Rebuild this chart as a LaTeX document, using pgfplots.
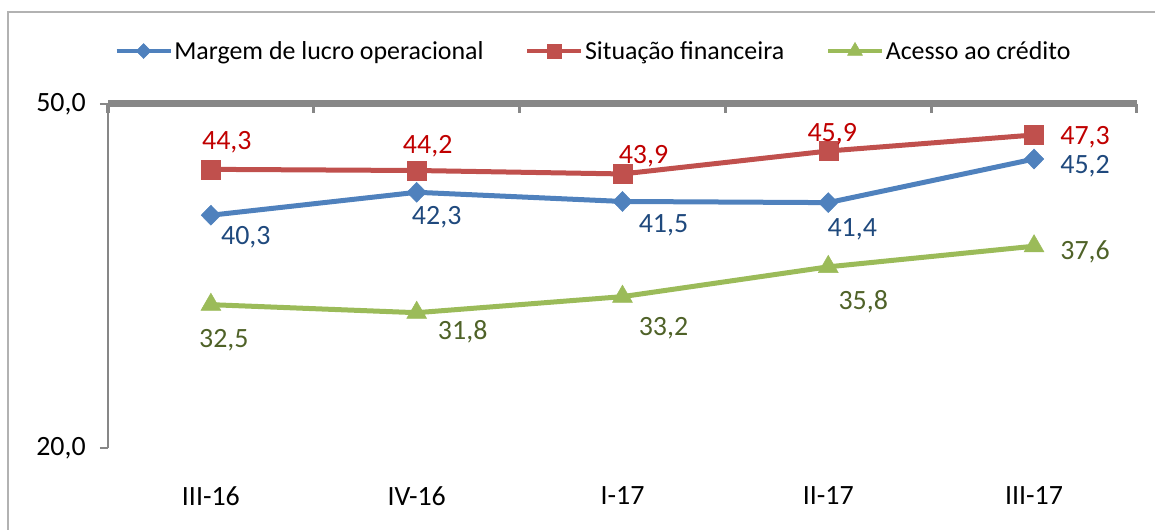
\documentclass[border=0pt]{standalone}
\usepackage{pgfplots}
\pgfplotsset{compat=1.18}
\usepackage{pgfplotstable}
\usepackage{fontspec}
\setmainfont{Carlito}
\definecolor{cblue}{HTML}{4F81BD}
\definecolor{cred}{HTML}{C0504D}
\definecolor{cgreen}{HTML}{9BBB59}
\definecolor{tblue}{HTML}{1F497D}
\definecolor{tred}{HTML}{C00000}
\definecolor{tgreen}{HTML}{4F6228}
\definecolor{axgray}{HTML}{878787}

\pgfplotstableread{
x y dx dy
0 40.3 35 -22
1 42.3 20 -25
2 41.5 41 -24
3 41.4 24 -27
4 45.2 51 -7
}\tblue
\pgfplotstableread{
x y dx dy
0 44.3 16 27
1 44.2 11 24
2 43.9 21 18
3 45.9 4 17
4 47.3 51 -2
}\tred
\pgfplotstableread{
x y dx dy
0 32.5 13 -36
1 31.8 46 -19
2 33.2 41 -32
3 35.8 35 -35
4 37.6 51 -6
}\tgreen

\begin{document}
\begin{tikzpicture}
\useasboundingbox (0,0) rectangle (1155bp,530bp);
\draw[gray!60, line width=1.5bp] (8bp,-5bp) -- (8bp,518bp) -- (1160bp,518bp);
\begin{axis}[
  at={(108bp,82bp)}, anchor=south west,
  scale only axis, width=1029bp, height=344bp,
  xmin=-0.5, xmax=4.5, ymin=20, ymax=50,
  clip=false,
  axis line style={draw=none},
  xtick={0,1,2,3,4},
  xticklabels={III-16,IV-16,I-17,II-17,III-17},
  xtick style={draw=none},
  xticklabel style={anchor=center, yshift=-40bp},
  ytick={20,50},
  ytick pos=left,
  tick align=outside,
  major tick length=8bp,
  ytick style={draw=axgray, line width=2bp},
  yticklabel style={anchor=center, xshift=-39bp},
  /pgf/number format/use comma,
  /pgf/number format/fixed,
  /pgf/number format/fixed zerofill,
  /pgf/number format/precision=1,
  /pgf/number format/assume math mode=true,
  font=\fontsize{28}{32}\selectfont,
  nodes near coords,
  visualization depends on={\thisrow{dx}\as\dx},
  visualization depends on={\thisrow{dy}\as\dy},
  nodes near coords style={anchor=center, inner sep=1bp, xshift=\dx bp, yshift=\dy bp, font=\fontsize{28}{30}\selectfont},
  legend columns=3,
  legend style={draw=none, fill=none, at={(0.472,1.154)}, anchor=center,
    font=\fontsize{26}{30}\selectfont,
    /tikz/every even column/.append style={column sep=40bp}},
  legend image code/.code={
    \draw[mark repeat=2,mark phase=2,#1, line width=3.5bp, every mark/.append style={scale=0.75}] plot coordinates {(0bp,0bp) (27bp,0bp) (54bp,0bp)};
  },
]
\addplot[color=cblue, line width=5bp, mark=diamond*,
  mark options={solid, fill=cblue, draw=cblue, line width=0.5bp, xscale=1.3}, mark size=10bp,
  every node near coord/.append style={text=tblue}]
  table[x=x, y=y] {\tblue};
\addlegendentry{Margem de lucro operacional}
\addplot[color=cred, line width=5bp, mark=square*,
  mark options={solid, fill=cred, draw=cred, line width=0.5bp}, mark size=9.5bp,
  every node near coord/.append style={text=tred}]
  table[x=x, y=y] {\tred};
\addlegendentry{Situação financeira}
\addplot[color=cgreen, line width=5bp, mark=triangle*,
  mark options={solid, fill=cgreen, draw=cgreen, line width=0.5bp}, mark size=11.5bp,
  every node near coord/.append style={text=tgreen}]
  table[x=x, y=y] {\tgreen};
\addlegendentry{Acesso ao crédito}
\draw[axgray, line width=2bp] (axis cs:-0.5,20) -- (axis cs:-0.5,50);
\draw[axgray, line width=7bp] (axis cs:-0.5,50) -- (axis cs:4.5,50);
\draw[axgray, line width=3bp] (axis cs:-0.5,50) -- (axis cs:-0.5,49.25);
\draw[axgray, line width=3bp] (axis cs:0.5,50) -- (axis cs:0.5,49.25);
\draw[axgray, line width=3bp] (axis cs:1.5,50) -- (axis cs:1.5,49.25);
\draw[axgray, line width=3bp] (axis cs:2.5,50) -- (axis cs:2.5,49.25);
\draw[axgray, line width=3bp] (axis cs:3.5,50) -- (axis cs:3.5,49.25);
\draw[axgray, line width=3bp] (axis cs:4.5,50) -- (axis cs:4.5,49.25);
\end{axis}
\end{tikzpicture}
\end{document}
